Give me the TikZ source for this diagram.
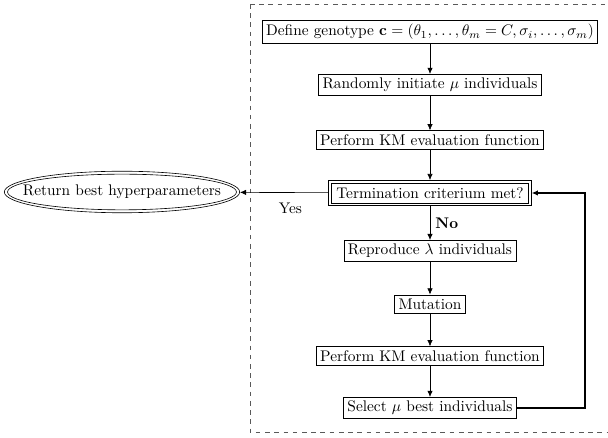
\documentclass[tikz,border=0pt]{standalone}
\usepackage{amsmath}
\usetikzlibrary{arrows.meta,shapes.geometric}
\begin{document}
\begin{tikzpicture}[x=0.65pt,y=-0.65pt,
  stepbox/.style={draw,rectangle,inner sep=2.5pt},
  flow/.style={-{Latex[length=4pt,width=3.5pt]}},
  loopline/.style={thick,-{Latex[length=4pt,width=3.5pt]}}]
\useasboundingbox (0,0) rectangle (608,438);
% dashed frame around the evolutionary loop
\draw[dashed,gray!70!black] (250,4) -- (612,4) (250,4) -- (250,432) -- (612,432);

\node[stepbox] (define) at (430,32) {Define genotype $\mathbf{c}=(\theta_1,\ldots,\theta_m=C,\sigma_i,\ldots,\sigma_m)$};
\node[stepbox] (init)   at (430,85) {Randomly initiate $\mu$ individuals};
\node[stepbox] (eval1)  at (430,140) {Perform KM evaluation function};
\node[stepbox,inner xsep=5pt,inner ysep=4.6pt] (term) at (430,193) {Termination criterium met?};
% inner border of the decision box
\draw ([shift={(2pt,2pt)}]term.south west) rectangle ([shift={(-2pt,-2pt)}]term.north east);
\node[stepbox] (repro)  at (430,251) {Reproduce $\lambda$ individuals};
\node[stepbox] (mut)    at (430,304) {Mutation};
\node[stepbox] (eval2)  at (430,356) {Perform KM evaluation function};
\node[stepbox] (select) at (430,408) {Select $\mu$ best individuals};
\node[draw,ellipse,inner sep=0pt,minimum width=153pt,minimum height=27pt,
      label={center:Return best hyperparameters}] (ret) at (122,192) {};
% inner outline of the result ellipse
\draw (ret.center) ellipse [x radius=74.4pt,y radius=11.6pt];

\coordinate (cr) at (585,408);
\coordinate (ct) at (585,193);

\draw[flow] (define) -- (init);
\draw[flow] (init) -- (eval1);
\draw[flow] (eval1) -- (term);
\draw[flow] (term) -- node[right,font=\bfseries,pos=0.5] {No} (repro);
\draw[flow] (repro) -- (mut);
\draw[flow] (mut) -- (eval2);
\draw[flow] (eval2) -- (select);
\draw[flow] (term) -- node[below,pos=0.43,yshift=-3pt] {Yes} (ret);
\draw[loopline] (select.east) -- (cr) -- (ct) -- (term.east);
\end{tikzpicture}
\end{document}
